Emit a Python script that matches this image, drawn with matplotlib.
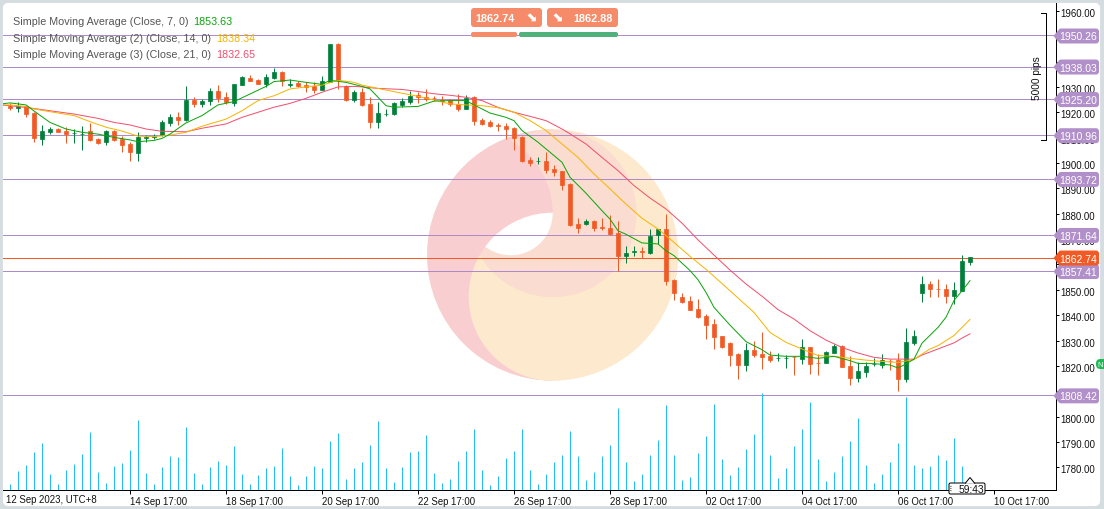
import matplotlib
matplotlib.use("Agg")
import matplotlib.pyplot as plt
from matplotlib.patches import Circle, Wedge, FancyBboxPatch, Polygon
from matplotlib.transforms import ScaledTranslation

plt.rcParams['font.family'] = ['Liberation Sans', 'DejaVu Sans']

opens = [1922.6, 1921.7, 1922.3, 1919.7, 1909.5, 1912.1, 1913.4, 1912.6, 1911.7, 1911.3, 1912.5, 1909.3, 1908.4, 1912.6, 1909.5,
         1907.5, 1904.1, 1910.0, 1910.4, 1911.0, 1915.9, 1918.1, 1917.0, 1924.8, 1923.4, 1924.3, 1928.4, 1925.9, 1923.8, 1930.9,
         1933.4, 1932.7, 1931.1, 1933.5, 1935.9, 1930.9, 1931.5, 1930.7, 1930.2, 1928.9, 1932.1, 1946.9, 1930.2, 1924.7, 1928.0,
         1923.3, 1916.3, 1919.3, 1919.3, 1922.9, 1924.2, 1926.7, 1926.1, 1925.6, 1924.7, 1924.8, 1923.1, 1921.3, 1925.9, 1916.8,
         1916.2, 1914.8, 1914.6, 1913.7, 1910.1, 1901.3, 1900.7, 1900.8, 1897.6, 1896.9, 1891.7, 1876.0, 1876.0, 1877.2, 1874.6,
         1874.4, 1872.4, 1863.4, 1865.1, 1865.2, 1864.5, 1871.6, 1874.0, 1853.9, 1847.2, 1845.6, 1842.5, 1839.7, 1836.5, 1831.8,
         1829.0, 1824.7, 1820.4, 1826.3, 1824.7, 1823.9, 1823.2, 1823.2, 1823.6, 1822.7, 1827.5, 1821.1, 1821.2, 1825.1, 1827.9,
         1820.0, 1815.2, 1817.6, 1820.7, 1820.4, 1822.1, 1822.3, 1814.8, 1829.0, 1848.8, 1852.3, 1850.5, 1850.3, 1847.6, 1849.7,
         1861.1]
highs = [1923.7, 1924.2, 1922.6, 1920.0, 1915.0, 1914.1, 1913.8, 1914.1, 1913.4, 1914.5, 1915.6, 1909.7, 1913.0, 1913.1, 1910.5,
         1908.2, 1912.1, 1911.0, 1911.6, 1917.0, 1919.3, 1920.2, 1930.4, 1925.9, 1925.2, 1929.4, 1930.7, 1928.1, 1931.1, 1934.3,
         1934.7, 1933.1, 1935.0, 1937.5, 1936.4, 1933.1, 1932.5, 1932.1, 1931.8, 1934.2, 1946.9, 1947.3, 1930.7, 1928.9, 1929.4,
         1925.9, 1923.9, 1921.3, 1923.9, 1925.6, 1928.4, 1927.9, 1929.2, 1926.3, 1926.3, 1925.2, 1927.1, 1926.7, 1926.3, 1917.7,
         1917.0, 1915.8, 1915.8, 1914.1, 1910.5, 1902.4, 1902.4, 1904.2, 1899.2, 1896.9, 1892.0, 1878.3, 1877.9, 1877.7, 1878.2,
         1879.4, 1877.2, 1867.2, 1867.2, 1866.9, 1874.0, 1874.0, 1879.9, 1854.3, 1848.8, 1847.6, 1846.4, 1840.5, 1838.5, 1831.9,
         1829.4, 1825.1, 1829.0, 1829.8, 1833.4, 1825.9, 1825.1, 1824.3, 1823.9, 1830.6, 1827.5, 1824.7, 1825.9, 1828.7, 1828.3,
         1823.8, 1821.6, 1821.6, 1823.1, 1824.7, 1822.7, 1825.1, 1835.0, 1834.2, 1855.5, 1853.5, 1854.3, 1852.3, 1853.1, 1863.8,
         1863.0]
lows = [1921.0, 1920.2, 1918.3, 1908.2, 1907.2, 1911.4, 1912.1, 1908.0, 1908.0, 1905.3, 1908.8, 1907.6, 1907.2, 1908.7, 1904.5,
        1900.9, 1900.9, 1908.2, 1909.5, 1910.8, 1914.7, 1915.0, 1916.6, 1922.0, 1922.2, 1922.9, 1924.2, 1923.3, 1922.6, 1930.7,
        1932.2, 1931.0, 1929.8, 1933.1, 1930.4, 1929.8, 1930.1, 1928.1, 1927.7, 1928.8, 1931.8, 1929.2, 1924.6, 1924.0, 1922.3,
        1913.8, 1913.9, 1918.4, 1918.9, 1922.0, 1923.4, 1923.7, 1924.6, 1924.4, 1922.9, 1922.6, 1920.5, 1921.2, 1915.0, 1915.0,
        1914.2, 1912.6, 1909.5, 1905.1, 1900.4, 1899.0, 1899.6, 1896.1, 1895.0, 1889.5, 1875.3, 1872.6, 1875.6, 1873.3, 1873.5,
        1871.6, 1857.6, 1860.7, 1863.3, 1862.4, 1864.1, 1868.1, 1852.0, 1846.0, 1844.8, 1842.1, 1838.9, 1830.6, 1826.7, 1827.1,
        1820.0, 1814.8, 1818.0, 1823.5, 1818.8, 1821.6, 1821.9, 1819.2, 1816.4, 1820.8, 1816.8, 1816.4, 1821.0, 1825.1, 1819.6,
        1812.5, 1813.7, 1815.6, 1820.0, 1819.2, 1818.4, 1810.1, 1813.7, 1828.2, 1845.2, 1847.2, 1847.2, 1844.8, 1844.4, 1849.4,
        1859.8]
closes = [1921.6, 1922.6, 1919.3, 1909.7, 1912.6, 1913.4, 1912.4, 1911.6, 1911.8, 1911.4, 1909.1, 1907.9, 1912.6, 1909.1, 1907.1,
          1904.5, 1910.2, 1910.1, 1910.5, 1916.2, 1918.1, 1917.1, 1924.7, 1923.3, 1924.4, 1928.3, 1925.6, 1923.9, 1931.1, 1933.9,
          1932.5, 1931.3, 1933.9, 1935.9, 1932.2, 1931.0, 1930.4, 1930.1, 1928.9, 1932.3, 1946.9, 1932.7, 1924.7, 1928.0, 1922.9,
          1916.3, 1919.7, 1919.5, 1923.7, 1924.4, 1926.5, 1925.9, 1925.1, 1925.5, 1924.6, 1923.1, 1921.3, 1925.7, 1916.6, 1915.4,
          1914.6, 1914.7, 1913.5, 1910.0, 1900.9, 1900.0, 1900.8, 1897.4, 1896.6, 1891.5, 1875.6, 1874.4, 1877.3, 1874.5, 1874.5,
          1871.9, 1863.5, 1864.5, 1865.2, 1865.1, 1871.1, 1873.9, 1853.5, 1848.8, 1845.2, 1842.1, 1839.3, 1836.1, 1831.4, 1827.5,
          1824.3, 1820.4, 1826.3, 1824.3, 1823.5, 1822.3, 1823.3, 1823.3, 1823.5, 1827.5, 1820.8, 1821.0, 1825.5, 1827.9, 1819.6,
          1815.2, 1818.0, 1820.0, 1820.8, 1822.3, 1822.0, 1814.8, 1829.4, 1831.8, 1852.3, 1850.3, 1850.4, 1847.6, 1849.9, 1861.3,
          1862.8]
# tick volume, unit chosen so 1 = 1 px of height
volumes = [6, 19, 25, 38, 47, 16, 6, 20, 26, 36, 58, 18, 7, 24, 27, 40, 70, 17, 6, 23, 34, 33, 63, 17, 6, 23, 29, 25, 44, 16,
           6, 15, 22, 24, 42, 14, 5, 14, 24, 22, 49, 57, 11, 22, 28, 45, 69, 22, 8, 23, 38, 39, 55, 17, 7, 11, 29, 39, 61, 20,
           5, 14, 32, 39, 61, 20, 6, 16, 28, 35, 59, 34, 10, 18, 34, 45, 82, 28, 9, 16, 35, 50, 85, 35, 10, 13, 37, 54, 86, 31,
           15, 23, 41, 56, 97, 35, 12, 22, 44, 61, 88, 31, 9, 18, 34, 49, 72, 25, 7, 16, 28, 47, 93, 25, 22, 24, 35, 30, 52, 24,
           4]

ma7_idx = [-1, 0, 2, 3, 5, 7, 9, 11, 13, 15, 16, 18, 19, 20, 22, 24, 26, 28, 30, 32, 33, 35, 37, 39, 40, 42, 44,
           45, 46, 47, 48, 51, 53, 55, 57, 58, 60, 62, 63, 64, 66, 69, 70, 72, 74, 75, 76, 77, 79, 81, 82, 83, 85, 86, 87,
           88, 90, 92, 94, 95, 97, 99, 101, 103, 105, 106, 108, 110, 111, 112, 113, 114, 116, 117, 118, 119, 120]
ma7 = [1923.3, 1923.7, 1922.9, 1920.5, 1916.0, 1913.4, 1912.1, 1911.4, 1910.1, 1909.1, 1908.4, 1908.9, 1909.7, 1911.4, 1915.8, 1918.7,
       1922.9, 1924.2, 1927.2, 1930.2, 1932.1, 1932.7, 1931.8, 1931.0, 1932.6, 1931.8, 1930.2,
       1929.2, 1925.9, 1922.6, 1922.0, 1922.3, 1924.4, 1924.6, 1924.6, 1922.9, 1919.7, 1918.0, 1916.7, 1912.8, 1908.2, 1900.3,
       1894.4, 1888.1, 1881.2, 1877.9, 1873.3, 1871.9, 1868.5, 1868.1, 1865.4, 1863.5, 1857.6, 1854.0, 1849.0,
       1843.1, 1836.1, 1829.6, 1826.4, 1824.3, 1823.8, 1823.8, 1823.0, 1823.8, 1822.1, 1821.0, 1820.9, 1820.4, 1819.2, 1820.8,
       1822.7, 1829.0, 1835.2, 1839.2, 1845.8, 1849.6, 1853.63]
ma14_idx = [-1, 0, 2, 3, 6, 8, 10, 12, 14, 16, 18, 20, 22, 24, 27, 29, 31, 33, 35, 37, 39, 41, 43, 44,
            46, 49, 51, 53, 55, 57, 59, 61, 63, 65, 67, 69, 71, 73, 75, 77, 79, 81, 83, 85, 87, 89, 91,
            93, 95, 97, 99, 101, 103, 105, 107, 109, 111, 113, 114, 115, 116, 117, 118, 119, 120]
ma14 = [1922.9, 1922.9, 1922.3, 1921.3, 1919.7, 1918.7, 1916.3, 1914.1, 1912.6, 1910.6, 1910.4, 1911.0, 1912.1, 1914.5, 1917.3, 1920.6,
        1924.6, 1926.5, 1929.2, 1930.0, 1930.7, 1932.6, 1931.8, 1930.7,
        1929.4, 1927.5, 1926.3, 1924.8, 1923.3, 1922.9, 1922.6, 1921.8, 1920.0, 1916.7, 1912.8, 1907.5, 1902.2, 1895.7, 1889.8,
        1883.8, 1878.2, 1874.0, 1868.7, 1863.2, 1858.1, 1852.5, 1846.8,
        1841.1, 1833.2, 1829.3, 1826.7, 1824.1, 1823.8, 1823.0, 1822.3, 1821.8, 1821.4, 1822.5, 1824.7, 1826.7, 1828.0, 1830.0,
        1832.0, 1835.2, 1838.34]
ma21_idx = [-1, 0, 2, 5, 8, 11, 13, 15, 17, 19, 22, 24, 27, 29, 31, 33, 35, 37, 39, 41, 43, 44,
            46, 49, 51, 53, 55, 57, 59, 61, 63, 65, 67, 69, 70, 72, 74, 76, 78, 80, 82, 84, 86, 88, 90, 92, 94,
            96, 98, 100, 102, 104, 106, 108, 110, 112, 113, 114, 116, 118, 119, 120]
ma21 = [1922.8, 1922.6, 1921.9, 1920.6, 1919.3, 1917.6, 1916.0, 1915.0, 1913.4, 1912.5, 1912.3, 1913.7, 1915.4, 1918.0, 1920.0, 1922.0,
        1923.5, 1925.5, 1927.9, 1930.0, 1930.2, 1930.0,
        1929.4, 1929.0, 1928.2, 1927.3, 1926.7, 1925.9, 1924.6, 1921.9, 1920.0, 1918.4, 1916.7, 1913.4, 1911.5, 1907.5, 1902.2,
        1897.0, 1891.1, 1886.2, 1881.9, 1876.3, 1869.7, 1863.7, 1857.8, 1852.3, 1847.5,
        1842.2, 1838.5, 1833.9, 1830.2, 1827.3, 1825.1, 1823.4, 1822.7, 1822.7, 1822.7, 1824.3, 1826.7, 1829.1, 1831.0, 1832.65]

levels = [1950.26, 1938.03, 1925.20, 1910.96, 1893.72, 1871.64, 1857.41, 1808.42]
current = 1862.74
ask = 1862.88
price_ticks = [1960, 1950, 1940, 1930, 1920, 1910, 1900, 1890, 1880, 1870, 1860, 1850, 1840, 1830, 1820, 1810, 1800, 1790, 1780]
hidden_labels = [1950, 1860, 1810]  # these sit fully behind a price tag
time_tick_idx = [15, 27, 39, 51, 63, 75, 87, 99, 111, 123]
time_tick_labels = ['14 Sep 17:00', '18 Sep 17:00', '20 Sep 17:00', '22 Sep 17:00', '26 Sep 17:00', '28 Sep 17:00',
                    '02 Oct 17:00', '04 Oct 17:00', '06 Oct 17:00', '10 Oct 17:00']
legend_names = ['Simple Moving Average (Close, 7, 0)', 'Simple Moving Average (2) (Close, 14, 0)', 'Simple Moving Average (3) (Close, 21, 0)']
legend_values = ['1853.63', '1838.34', '1832.65']

UP = '#007e3a'
DOWN = '#f15a24'
PURPLE = '#ad8aca'
MA_COLORS = ['#0aa50a', '#f7b500', '#f2506e']
PX = 0.72  # 1 pixel in points at dpi 100

W, H = 1104, 510
fig = plt.figure(figsize=(W / 100, H / 100), dpi=100, facecolor='#d6dde0')


def px_axes(z):
    # full figure axes in pixel coords, y going down
    a = fig.add_axes([0, 0, 1, 1], zorder=z)
    a.set_xlim(0, W)
    a.set_ylim(H, 0)
    a.axis('off')
    return a


bg = px_axes(0)
bg.add_patch(FancyBboxPatch((5, 6), 1093, 499, boxstyle='round,pad=0,rounding_size=3', mutation_aspect=1,
                            fc='white', ec='white', lw=3))

# watermark logo
cx, cy, r = 552.7, 256, 125.6
small = 83.7
PINK, CREAM, BLEND = '#f9ced1', '#fde9cd', '#fbdcd0'
bg.add_patch(Circle((cx, cy), r, fc=CREAM, ec='none'))
bg.add_patch(Wedge((cx, cy), r, 90, 270, fc=PINK, ec='none'))
lower = Circle((cx, cy + 41.7), 84, fc=CREAM, ec='none')
bg.add_patch(lower)
upper = Circle((cx, cy - 41.7), small, fc=BLEND, ec='none')
bg.add_patch(upper)
pink_part = bg.add_patch(Circle((cx - small, cy - 41.7), small, fc=PINK, ec='none'))
pink_part.set_clip_path(upper)
overlap = bg.add_patch(Circle((cx, cy - 41.7), small, fc=BLEND, ec='none'))
overlap.set_clip_path(lower)
hole = bg.add_patch(Circle((cx - 42, cy - 41.7), 42, fc='white', ec='none'))
hole.set_clip_path(lower)

# price chart, px 3..1056 across and 4..491 down
ax = fig.add_axes([3 / W, (H - 491) / H, 1053 / W, 487 / H], zorder=1)
ax.patch.set_visible(False)
ax.set_xlim(-0.875, 130.75)
ax.set_ylim(1771.11, 1963.07)

for lv in levels:
    ax.axhline(lv, color=PURPLE, lw=PX, zorder=2)
ax.axhline(current, color=DOWN, lw=PX, zorder=2)

idx = list(range(len(closes)))
colors = [UP if c >= o else DOWN for o, c in zip(opens, closes)]
ax.vlines(idx, lows, highs, colors=colors, lw=PX, zorder=3)
ax.bar(idx, [abs(c - o) for o, c in zip(opens, closes)], bottom=[min(o, c) for o, c in zip(opens, closes)],
       width=0.54, color=colors, edgecolor=colors, lw=0.5, zorder=3)

ax.plot(ma21_idx, ma21, color=MA_COLORS[2], lw=PX, zorder=4)
ax.plot(ma14_idx, ma14, color=MA_COLORS[1], lw=PX, zorder=5)
ax.plot(ma7_idx, ma7, color=MA_COLORS[0], lw=PX, zorder=6)

# volumes share the x axis, own scale
vol = ax.twinx()
vol.set_ylim(0, 487)
vol.patch.set_visible(False)
vol.axis('off')
vol.vlines(idx, 0, volumes, colors='#1fbfff', lw=PX)

for s in ['top', 'left']:
    ax.spines[s].set_visible(False)
for s in ['right', 'bottom']:
    ax.spines[s].set_linewidth(PX)
    ax.spines[s].set_color('black')

ax.yaxis.tick_right()
ax.set_yticks(price_ticks)
ax.set_yticklabels(['' if p in hidden_labels else '%.2f' % p for p in price_ticks], fontsize=6.9, color='#111111')
ax.tick_params(axis='y', length=2.2, width=PX, pad=0.8)
shift_down = ScaledTranslation(0, -1 / 100, fig.dpi_scale_trans)
for lab in ax.get_yticklabels():
    lab.set_transform(lab.get_transform() + shift_down)
ax.set_xticks(time_tick_idx)
ax.set_xticklabels(time_tick_labels, fontsize=6.9, ha='left', color='#111111')
ax.tick_params(axis='x', length=2.8, width=PX, pad=1.4)

# overlay furniture
top = px_axes(5)
top.text(6, 500.5, '12 Sep 2023, UTC+8', fontsize=6.9, color='#111111', va='center', ha='left')

legend_y = [22, 39, 55.5]
value_x = [193, 216, 216]
for name, val, y, vx, col in zip(legend_names, legend_values, legend_y, value_x, MA_COLORS):
    top.text(13, y, name, fontsize=7.75, color='#555555', va='center', ha='left')
    top.text(vx, y, val, fontsize=7.75, color=col, va='center', ha='left')


def price_y(p):
    # pixel row of a price on the chart scale
    return 36.5 + (1950.26 - p) * 2.537


def price_tag(p, color):
    y = price_y(p)
    top.add_patch(Polygon([(1053.5, y + 0.5), (1058, y - 5), (1058, y + 6)], fc=color, ec='none'))
    top.add_patch(FancyBboxPatch((1058, y - 7), 41, 15, boxstyle='round,pad=0,rounding_size=3', fc=color, ec='none'))
    top.text(1078.5, y + 1, '%.2f' % p, fontsize=7.5, color='white', va='center', ha='center')


for lv in levels:
    price_tag(lv, '#b190ca')
price_tag(current, '#f15a24')

# bid / ask buttons
BTN = '#f68b6a'
for x0, x1 in [(471, 542), (547, 618)]:
    top.add_patch(FancyBboxPatch((x0, 9), x1 - x0, 19, boxstyle='round,pad=0,rounding_size=3', fc=BTN, ec='none'))
top.text(475, 18.5, '%.2f' % current, fontsize=7.8, color='white', fontweight='bold', va='center', ha='left')
top.text(531, 18.5, '\u2B0A', fontsize=9.5, color='white', fontweight='bold', va='center', ha='center', family='DejaVu Sans')
top.text(557, 18.5, '\u2B0A', fontsize=9.5, color='white', fontweight='bold', va='center', ha='center', family='DejaVu Sans')
top.text(573, 18.5, '%.2f' % ask, fontsize=7.8, color='white', fontweight='bold', va='center', ha='left')
top.add_patch(FancyBboxPatch((471, 33), 46, 5, boxstyle='round,pad=0,rounding_size=2', fc=BTN, ec='none'))
top.add_patch(FancyBboxPatch((519, 33), 99, 5, boxstyle='round,pad=0,rounding_size=2', fc='#4fb27d', ec='none'))

# 5000 pips bracket
top.plot([1041, 1046, 1046, 1041], [14, 14, 141, 141], color='black', lw=PX)
top.text(1037.5, 78, '5000 pips', rotation=90, fontsize=7.3, color='#111111', va='center', ha='center')

# countdown box
top.add_patch(FancyBboxPatch((949, 484), 36, 11, boxstyle='round,pad=0,rounding_size=1.5', fc='white', ec='black', lw=PX, zorder=6))
top.add_patch(Polygon([(965, 484.6), (970, 478.5), (975, 484.6)], fc='white', ec='black', lw=PX, closed=False, zorder=7))
top.text(952, 489.5, '\u2807', fontsize=6, color='#666666', va='center', ha='center', family='DejaVu Sans', zorder=8)
top.text(971, 490, '59:43', fontsize=7.4, color='#111111', va='center', ha='center', zorder=8)

# cut off green badge on the right edge
top.add_patch(FancyBboxPatch((1096, 360), 12, 10, boxstyle='round,pad=0,rounding_size=4.5', fc='#1db954', ec='none'))
top.text(1100.5, 365.3, 'N', fontsize=5.5, color='white', va='center', ha='center')

fig.savefig('out.png', dpi=100, facecolor=fig.get_facecolor())
